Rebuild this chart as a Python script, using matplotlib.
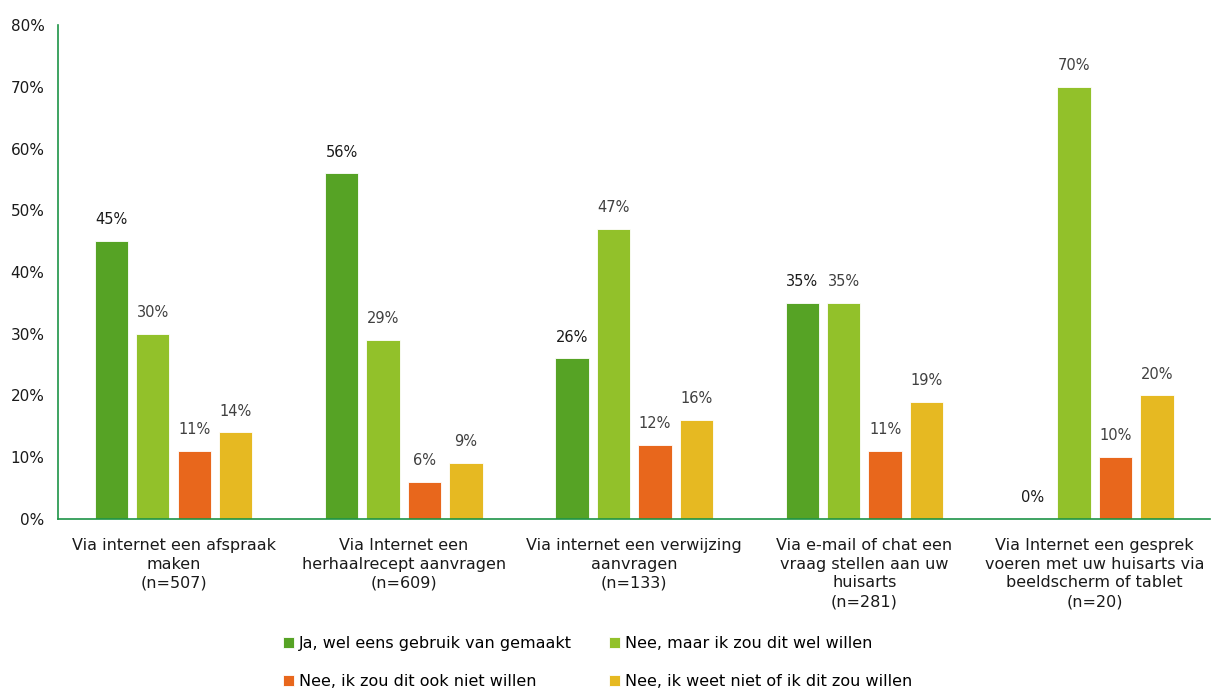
import numpy as np
import matplotlib.pyplot as plt
from matplotlib.ticker import PercentFormatter

plt.rcParams['font.family'] = ['DejaVu Sans']

categories = [
    'Via internet een afspraak\nmaken\n(n=507)',
    'Via Internet een\nherhaalrecept aanvragen\n(n=609)',
    'Via internet een verwijzing\naanvragen\n(n=133)',
    'Via e-mail of chat een\nvraag stellen aan uw\nhuisarts\n(n=281)',
    'Via Internet een gesprek\nvoeren met uw huisarts via\nbeeldscherm of tablet\n(n=20)',
]
series_names = [
    'Ja, wel eens gebruik van gemaakt',
    'Nee, maar ik zou dit wel willen',
    'Nee, ik zou dit ook niet willen',
    'Nee, ik weet niet of ik dit zou willen',
]
ja_gebruikt = [45, 56, 26, 35, 0]
nee_wel_willen = [30, 29, 47, 35, 70]
nee_niet_willen = [11, 6, 12, 11, 10]
weet_niet = [14, 9, 16, 19, 20]

values = [ja_gebruikt, nee_wel_willen, nee_niet_willen, weet_niet]
colors = ['#56a325', '#92c12a', '#e8671c', '#e6b922']
label_colors = ['#1a1a1a', '#404040', '#404040', '#404040']

fig = plt.figure(figsize=(12.16, 6.89), dpi=100)
ax = fig.add_axes([0.048, 0.247, 0.947, 0.716])

x = np.arange(len(categories))
width = 0.145
offsets = [-0.27, -0.09, 0.09, 0.27]

handles = []
for vals, off, col, lc, name in zip(values, offsets, colors, label_colors, series_names):
    bars = ax.bar(x + off, vals, width, color=col, label=name,
                  edgecolor='white', linewidth=0.6, zorder=2)
    handles.append(bars)
    for b, v in zip(bars, vals):
        ax.annotate(f'{v}%', (b.get_x() + b.get_width() / 2, v),
                    xytext=(0, 10), textcoords='offset points',
                    ha='center', va='bottom', fontsize=10.5, color=lc)

ax.set_xlim(-0.5, len(categories) - 0.5)
ax.set_ylim(0, 80)
ax.set_yticks(range(0, 81, 10))
ax.yaxis.set_major_formatter(PercentFormatter(decimals=0))
ax.set_xticks(x)
ax.set_xticklabels(categories, fontsize=11.5, linespacing=1.3, color='#1a1a1a')
ax.tick_params(axis='y', length=0, labelsize=11, labelcolor='#1a1a1a', pad=10)
ax.tick_params(axis='x', length=0, pad=14)

for side in ['top', 'right']:
    ax.spines[side].set_visible(False)
for side in ['left', 'bottom']:
    ax.spines[side].set_color('#1e9447')
    ax.spines[side].set_linewidth(1.2)

# row-major legend order: matplotlib fills columns first
order = [0, 2, 1, 3]
fig.legend([handles[i] for i in order], [series_names[i] for i in order],
           loc='lower left', bbox_to_anchor=(283 / 1216, 0.0), ncol=2, frameon=False,
           fontsize=11.5, handlelength=0.7, handleheight=0.7, handletextpad=0.3,
           columnspacing=2.3, labelspacing=1.45, borderpad=0, borderaxespad=0)

fig.savefig('out.png', dpi=100)
